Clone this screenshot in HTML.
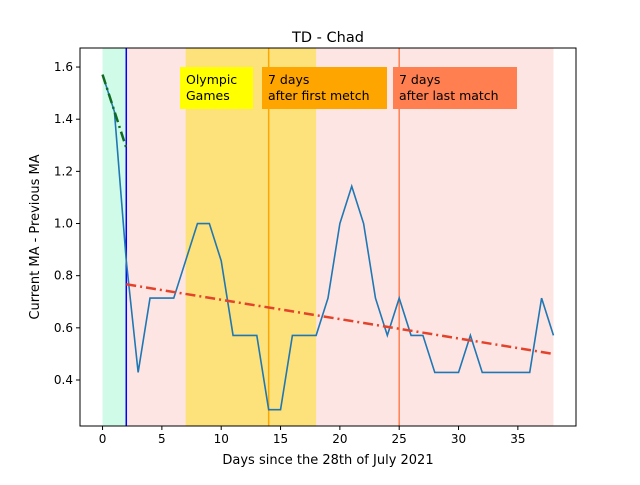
<!DOCTYPE html>
<html><head><meta charset="utf-8"><style>
body{margin:0;background:#fff;font-family:"Liberation Sans","DejaVu Sans",sans-serif}
svg text{font-family:"DejaVu Sans","Liberation Sans",sans-serif}
</style></head><body>
<svg id="chart" width="640" height="480" viewBox="0 0 640 480"></svg>
<script>
const days=[0,1,2,3,4,5,6,7,8,9,10,11,12,13,14,15,16,17,18,19,20,21,22,23,24,25,26,27,28,29,30,31,32,33,34,35,36,37,38];
const maValues=[1.571,1.429,0.857,0.429,0.714,0.714,0.714,0.857,1.0,1.0,0.857,0.571,0.571,0.571,0.286,0.286,0.571,0.571,0.571,0.714,1.0,1.143,1.0,0.714,0.571,0.714,0.571,0.571,0.429,0.429,0.429,0.571,0.429,0.429,0.429,0.429,0.429,0.714,0.571];
const preTrendX=[0,2];const preTrendY=[1.571,1.29];
const postTrendX=[2,38];const postTrendY=[0.767,0.50];
const xTicks=[0,5,10,15,20,25,30,35];
const yTicks=[0.4,0.6,0.8,1.0,1.2,1.4,1.6];
const L=80,R=576,T=48,B=426,xmin=-1.9,xmax=39.9,ymin=0.2236,ymax=1.673;
const X=v=>L+(v-xmin)/(xmax-xmin)*(R-L);
const Y=v=>B-(v-ymin)/(ymax-ymin)*(B-T);
const svg=document.getElementById('chart');
const NS='http://www.w3.org/2000/svg';
function mk(tag,attrs,parent){const e=document.createElementNS(NS,tag);for(const k in attrs)e.setAttribute(k,attrs[k]);(parent||svg).appendChild(e);return e;}
let e;
e=mk('rect',{x:X(0),y:T,width:X(2)-X(0),height:B-T,fill:'#d0fbe9'});

e=mk('rect',{x:X(2),y:T,width:X(38)-X(2),height:B-T,fill:'#fde5e4'});

e=mk('rect',{x:X(7),y:T,width:X(18)-X(7),height:B-T,fill:'#fde17a'});

e=mk('line',{x1:X(2),x2:X(2),y1:T,y2:B,stroke:'#0000ff','stroke-width':1.5});

e=mk('line',{x1:X(14),x2:X(14),y1:T,y2:B,stroke:'#ffa500','stroke-width':1.5});

e=mk('line',{x1:X(25),x2:X(25),y1:T,y2:B,stroke:'#ff7f50','stroke-width':1.5});

e=mk('polyline',{points:days.map((d,i)=>X(d)+','+Y(maValues[i])).join(' '),fill:'none',stroke:'#1f77b4','stroke-width':1.6});

e=mk('line',{x1:X(preTrendX[0]),y1:Y(preTrendY[0]),x2:X(preTrendX[1]),y2:Y(preTrendY[1]),stroke:'#106b20','stroke-width':2.5,'stroke-dasharray':'10 4 2 4'});

e=mk('line',{x1:X(postTrendX[0]),y1:Y(postTrendY[0]),x2:X(postTrendX[1]),y2:Y(postTrendY[1]),stroke:'#e2432a','stroke-width':2.5,'stroke-dasharray':'10 4 2 4'});

function box(x,w,fill,l1,l2,name){const g=mk('g',{});
mk('rect',{x:x,y:67,width:w,height:42,fill:fill},g);
mk('text',{x:x+6,y:84,'font-size':12.5},g).textContent=l1;
mk('text',{x:x+6,y:100,'font-size':12.5},g).textContent=l2;}
box(180,73,'#ffff00','Olympic','Games','olympic-label');
box(262,125,'#ffa500','7 days','after first metch','first-match-label');
box(393,124,'#ff7f50','7 days','after last match','last-match-label');
e=mk('rect',{x:L,y:T,width:R-L,height:B-T,fill:'none',stroke:'#000','stroke-width':1});

xTicks.forEach(t=>{mk('line',{x1:X(t),x2:X(t),y1:B,y2:B+4,stroke:'#000'});
const tx=mk('text',{x:X(t),y:B+17,'font-size':12,'text-anchor':'middle'});tx.textContent=t;
});
yTicks.forEach(t=>{mk('line',{x1:L-4,x2:L,y1:Y(t),y2:Y(t),stroke:'#000'});
const tx=mk('text',{x:L-7,y:Y(t)+4,'font-size':12,'text-anchor':'end'});tx.textContent=t.toFixed(1);
});
e=mk('text',{x:328,y:48-6,'font-size':14.5,'text-anchor':'middle'});e.textContent='TD - Chad';

e=mk('text',{x:328,y:464,'font-size':13,'text-anchor':'middle'});e.textContent='Days since the 28th of July 2021';

e=mk('text',{x:0,y:0,'font-size':13,'text-anchor':'middle',transform:'translate(39,237) rotate(-90)'});e.textContent='Current MA - Previous MA';

</script>
</body></html>
